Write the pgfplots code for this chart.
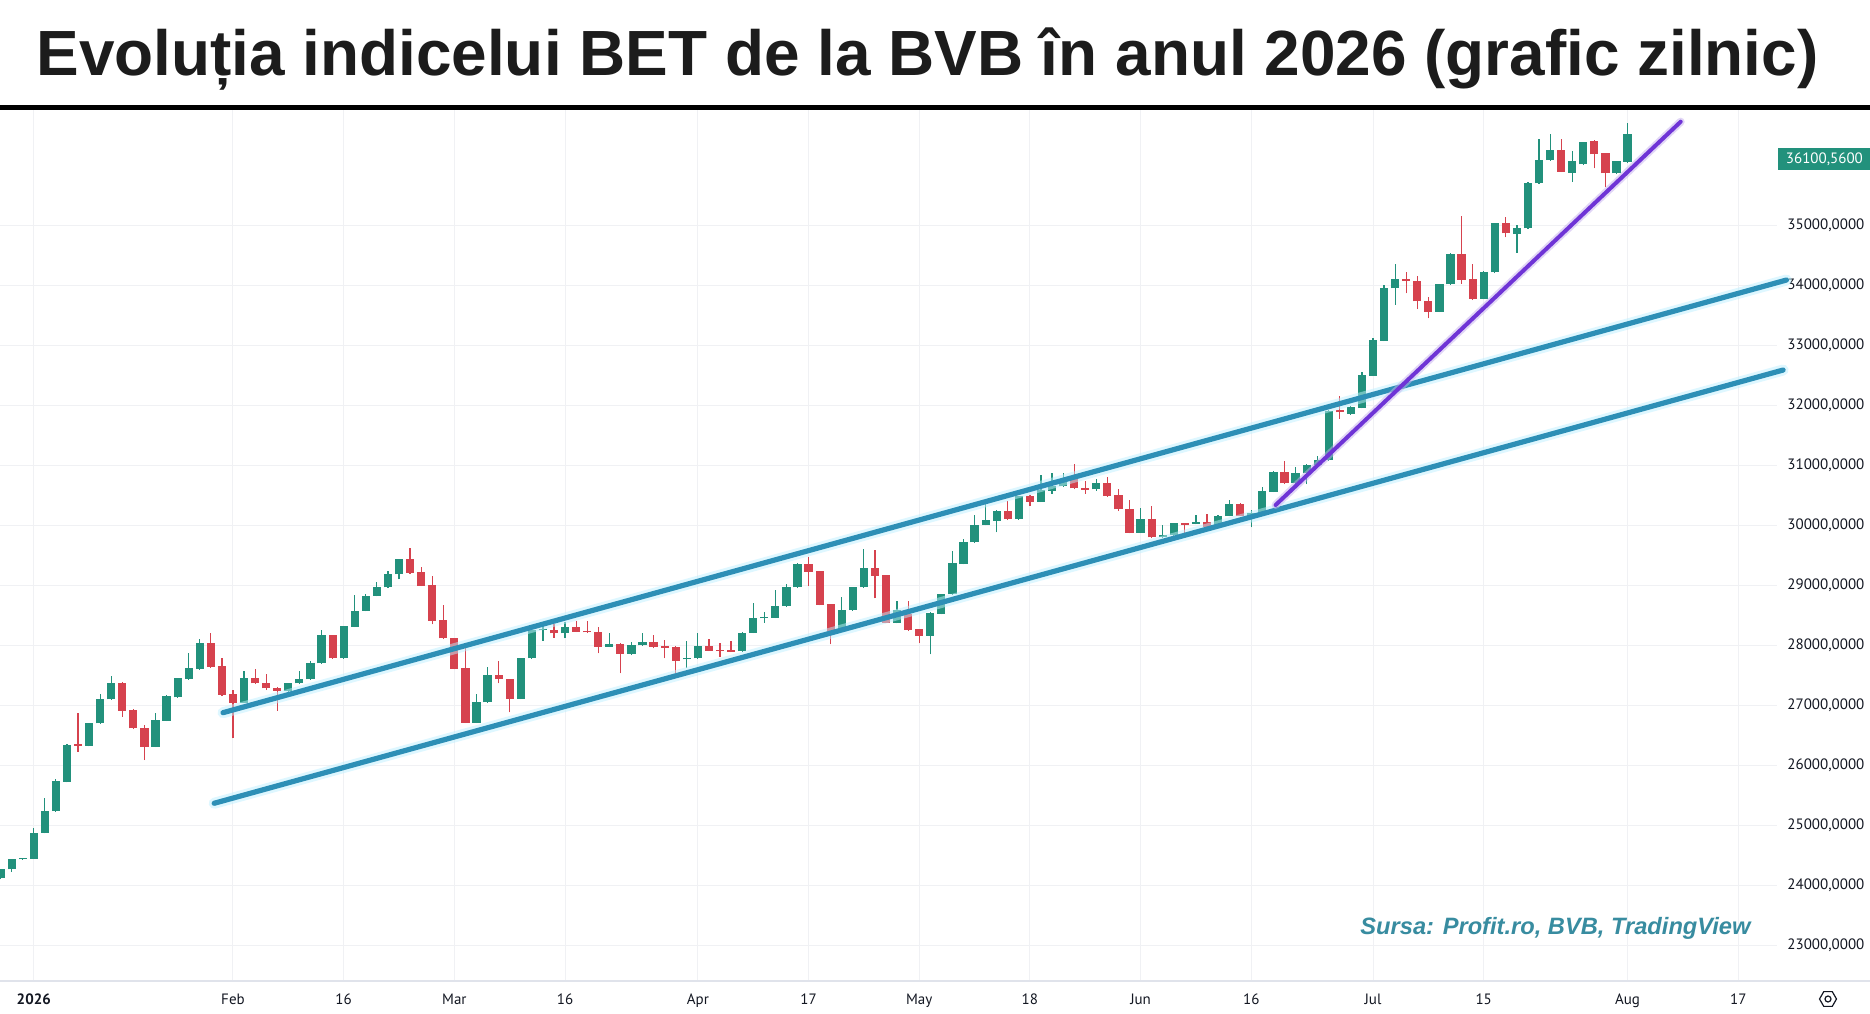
\documentclass[border=0pt]{standalone}
\usepackage{pgfplots}
\pgfplotsset{compat=1.18}
\usepackage{pgfplotstable}
\usepackage{fontspec}
\setmainfont{PT Sans}
\newfontfamily\titlefont{Liberation Sans}
\usetikzlibrary{shapes.geometric}

\definecolor{upc}{RGB}{34,145,124}
\definecolor{dnc}{RGB}{214,66,78}
\definecolor{chan}{RGB}{45,143,182}
\definecolor{changlow}{RGB}{190,240,255}
\definecolor{purp}{RGB}{111,52,214}
\definecolor{gridc}{RGB}{240,241,244}
\definecolor{lab}{RGB}{19,23,34}
\definecolor{wm}{RGB}{56,140,160}
\definecolor{titlec}{RGB}{28,28,28}
\definecolor{axisc}{RGB}{224,227,235}

\pgfplotstableread{
i o h l c
-3 24111 24261 24100 24261
-2 24261 24440 24222 24428
-1 24428 24455 24420 24452
0 24440 24944 24430 24872
1 24872 25444 24860 25233
2 25233 25761 25220 25733
3 25722 26344 25710 26333
5 26322 26706 26310 26694
6 26694 27183 26690 27094
7 27094 27483 27090 27372
11 26306 26861 26300 26750
12 26740 27167 26730 27150
13 27128 27456 27120 27444
14 27433 27872 27425 27611
15 27600 28094 27590 28028
19 27039 27567 27030 27444
23 27240 27370 27200 27361
24 27361 27567 27350 27428
25 27428 27733 27420 27694
26 27694 28250 27690 28167
28 27778 28320 27770 28317
29 28306 28833 28300 28572
30 28567 28850 28560 28817
31 28817 29044 28810 28972
32 28961 29239 28955 29183
33 29178 29440 29094 29433
40 26706 27183 26700 27044
41 27044 27639 27040 27500
44 27106 27780 27100 27778
45 27778 28260 27770 28250
46 28245 28317 28072 28270
48 28194 28389 28111 28294
52 27972 28194 27965 28022
54 27856 28050 27830 27994
55 27994 28194 27990 28044
59 27761 28072 27622 27789
60 27778 28194 27770 27983
64 27900 28210 27890 28206
65 28206 28694 28200 28444
66 28444 28556 28372 28470
67 28456 28917 28450 28650
68 28650 29017 28640 28972
69 28961 29360 28950 29350
73 28239 28806 28230 28583
74 28583 28970 28575 28961
75 28961 29600 28955 29278
78 28372 28733 28360 28583
81 28156 28550 27844 28539
82 28517 28850 28510 28844
83 28844 29567 28840 29361
84 29350 29761 29345 29711
85 29711 30167 29705 30000
86 30000 30361 29995 30083
87 30072 30250 29878 30233
89 30100 30490 30090 30483
91 30389 30833 30380 30583
92 30572 30872 30517 30650
93 30650 30861 30640 30739
96 30594 30761 30570 30694
100 29872 30278 29865 30094
102 29794 30000 29780 29833
103 29833 30040 29820 30028
105 30020 30167 30011 30044
107 29972 30160 29965 30150
108 30150 30417 30145 30350
110 30156 30250 29960 30200
111 30200 30628 30190 30561
112 30556 30900 30550 30889
114 30694 30960 30667 30861
115 30861 31010 30683 31006
116 31000 31156 30990 31083
117 31083 31920 31070 31906
119 31850 31990 31840 31961
120 31950 32544 31945 32506
121 32489 33111 32480 33083
122 33072 34000 33065 33950
123 33944 34350 33672 34100
127 33556 34020 33550 34011
128 34011 34530 34005 34517
131 33767 34239 33760 34211
132 34211 35040 34200 35028
134 34850 35000 34539 34944
135 34944 35710 34940 35706
136 35694 36428 35690 36083
137 36083 36511 36072 36250
139 35872 36233 35722 36067
140 36011 36390 36000 36383
143 35861 36070 35850 36067
144 36056 36694 36040 36517
}\uptable

\pgfplotstableread{
i o h l c
4 26345 26861 26222 26320
8 27372 27380 26806 26906
9 26917 26933 26600 26611
10 26611 26667 26083 26306
16 28028 28206 27620 27639
17 27650 27778 27150 27167
18 27178 27250 26444 27039
20 27444 27594 27350 27361
21 27361 27517 27250 27278
22 27278 27300 26906 27240
27 28167 28170 27770 27778
34 29433 29611 29190 29206
35 29211 29294 28980 28989
36 29000 29150 28344 28406
37 28417 28667 28100 28111
38 28111 28115 27594 27606
39 27617 27944 26700 26706
42 27500 27728 27361 27428
43 27428 27430 26878 27106
47 28250 28350 28122 28194
49 28294 28400 28215 28222
50 28239 28400 28200 28211
51 28211 28306 27861 27972
53 28022 28030 27528 27856
56 28044 28167 27944 27972
57 27978 28083 27778 27952
58 27970 27980 27539 27739
61 27983 28094 27900 27906
62 27922 28028 27806 27898
63 27912 28072 27880 27888
70 29344 29461 28989 29222
71 29233 29240 28660 28667
72 28678 28690 28011 28239
76 29278 29583 28778 29156
77 29167 29170 28360 28372
79 28517 28733 28233 28250
80 28261 28270 28028 28156
88 30233 30400 30080 30100
90 30483 30500 30322 30389
94 30761 31017 30600 30611
95 30614 30733 30517 30590
97 30706 30794 30470 30483
98 30500 30594 30233 30261
99 30261 30417 29860 29872
101 30094 30317 29780 29794
104 30032 30039 29806 30005
106 30044 30178 29960 29972
109 30350 30361 30150 30156
113 30889 31061 30680 30694
118 31917 32144 31767 31878
124 34100 34222 33861 34072
125 34072 34156 33600 33728
126 33728 33794 33444 33556
129 34517 35156 34017 34089
130 34100 34350 33750 33767
133 35028 35128 34794 34861
138 36250 36428 35880 35889
141 36400 36410 35944 36178
142 36194 36200 35628 35861
}\downtable

\begin{document}
\begin{tikzpicture}[x=1pt,y=1pt]
\useasboundingbox (0,0) rectangle (935,506.5);
\fill[white] (0,0) rectangle (935,506.5);
\begin{axis}[
  at={(0pt,16pt)}, anchor=south west,
  scale only axis, width=888.5pt, height=435.5pt,
  xmin=-3.05, xmax=157.5, ymin=22400, ymax=36917,
  clip=false,
  scaled y ticks=false, scaled x ticks=false,
  axis line style={draw=none},
  major tick length=0pt,
  xtick={0,18,28,38,48,60,70,80,90,100,110,121,131,144,154},
  xticklabels={\textbf{2026},Feb,16,Mar,16,Apr,17,May,18,Jun,16,Jul,15,Aug,17},
  ytick={23000,24000,25000,26000,27000,28000,29000,30000,31000,32000,33000,34000,35000},
  yticklabels={{23000,0000},{24000,0000},{25000,0000},{26000,0000},{27000,0000},{28000,0000},{29000,0000},{30000,0000},{31000,0000},{32000,0000},{33000,0000},{34000,0000},{35000,0000}},
  yticklabel pos=right,
  grid=major,
  major grid style={draw=gridc, line width=0.5pt},
  tick label style={font=\fontsize{7.5}{9}\selectfont, text=lab},
  xticklabel style={anchor=base, yshift=-11.5pt, inner sep=0pt},
  yticklabel style={anchor=west, inner sep=0pt, xshift=5pt},
]
% wicks
\addplot[draw=none, mark=none, forget plot, error bars/.cd, y dir=plus, y explicit, error mark=none,
  error bar style={draw=upc, line width=0.6pt}]
  table[x=i, y=l, y error expr=\thisrow{h}-\thisrow{l}] {\uptable};
\addplot[draw=none, mark=none, forget plot, error bars/.cd, y dir=plus, y explicit, error mark=none,
  error bar style={draw=dnc, line width=0.6pt}]
  table[x=i, y=l, y error expr=\thisrow{h}-\thisrow{l}] {\downtable};
% bodies
\addplot[draw=none, mark=none, forget plot, error bars/.cd, y dir=plus, y explicit, error mark=none,
  error bar style={draw=upc, line width=4.1pt}]
  table[x=i, y=o, y error expr=\thisrow{c}-\thisrow{o}] {\uptable};
\addplot[draw=none, mark=none, forget plot, error bars/.cd, y dir=plus, y explicit, error mark=none,
  error bar style={draw=dnc, line width=4.1pt}]
  table[x=i, y=c, y error expr=\thisrow{o}-\thisrow{c}] {\downtable};
% channel lines
\addplot[changlow, line width=5.5pt, opacity=0.5, line cap=round] coordinates {(17.1,26872) (158.35,34083)};
\addplot[changlow, line width=5.5pt, opacity=0.5, line cap=round] coordinates {(16.3,25362) (158.05,32583)};
\addplot[chan, line width=2.6pt, line cap=round] coordinates {(17.1,26872) (158.35,34083)};
\addplot[chan, line width=2.6pt, line cap=round] coordinates {(16.3,25362) (158.05,32583)};
% purple trend
\addplot[purp!40, line width=4pt, opacity=0.5, line cap=round] coordinates {(112.2,30333) (148.8,36722)};
\addplot[purp, line width=2pt, line cap=round] coordinates {(112.2,30333) (148.8,36722)};
% current price label
\node[anchor=west, fill=upc, text=white, inner sep=0pt, minimum width=46pt, minimum height=11pt,
  font=\fontsize{7.5}{9}\selectfont, xshift=0.5pt] at (axis cs:157.5,36100) {36100,5600};
\end{axis}
\draw[axisc, line width=0.7pt] (0,16) -- (935,16);
\node[draw=lab, regular polygon, regular polygon sides=6, minimum size=8.5pt, inner sep=0pt, line width=0.6pt] at (914,7) {};
\draw[lab, line width=0.6pt] (914,7) circle (1.5pt);
% title and rule
\node[anchor=base west, inner sep=0pt, text=titlec] at (18,468.5)
  {\resizebox{891pt}{!}{\titlefont\bfseries\fontsize{32}{36}\selectfont Evoluția indicelui BET de la BVB în anul 2026 (grafic zilnic)}};
\draw[black, line width=2.5pt] (0,452.75) -- (935,452.75);
% watermark
\node[anchor=base west, inner sep=0pt, text=wm] at (680,39.5)
  {\resizebox{195pt}{!}{\titlefont\bfseries\itshape\fontsize{12}{14}\selectfont Sursa: Profit.ro, BVB, TradingView}};
\end{tikzpicture}
\end{document}
